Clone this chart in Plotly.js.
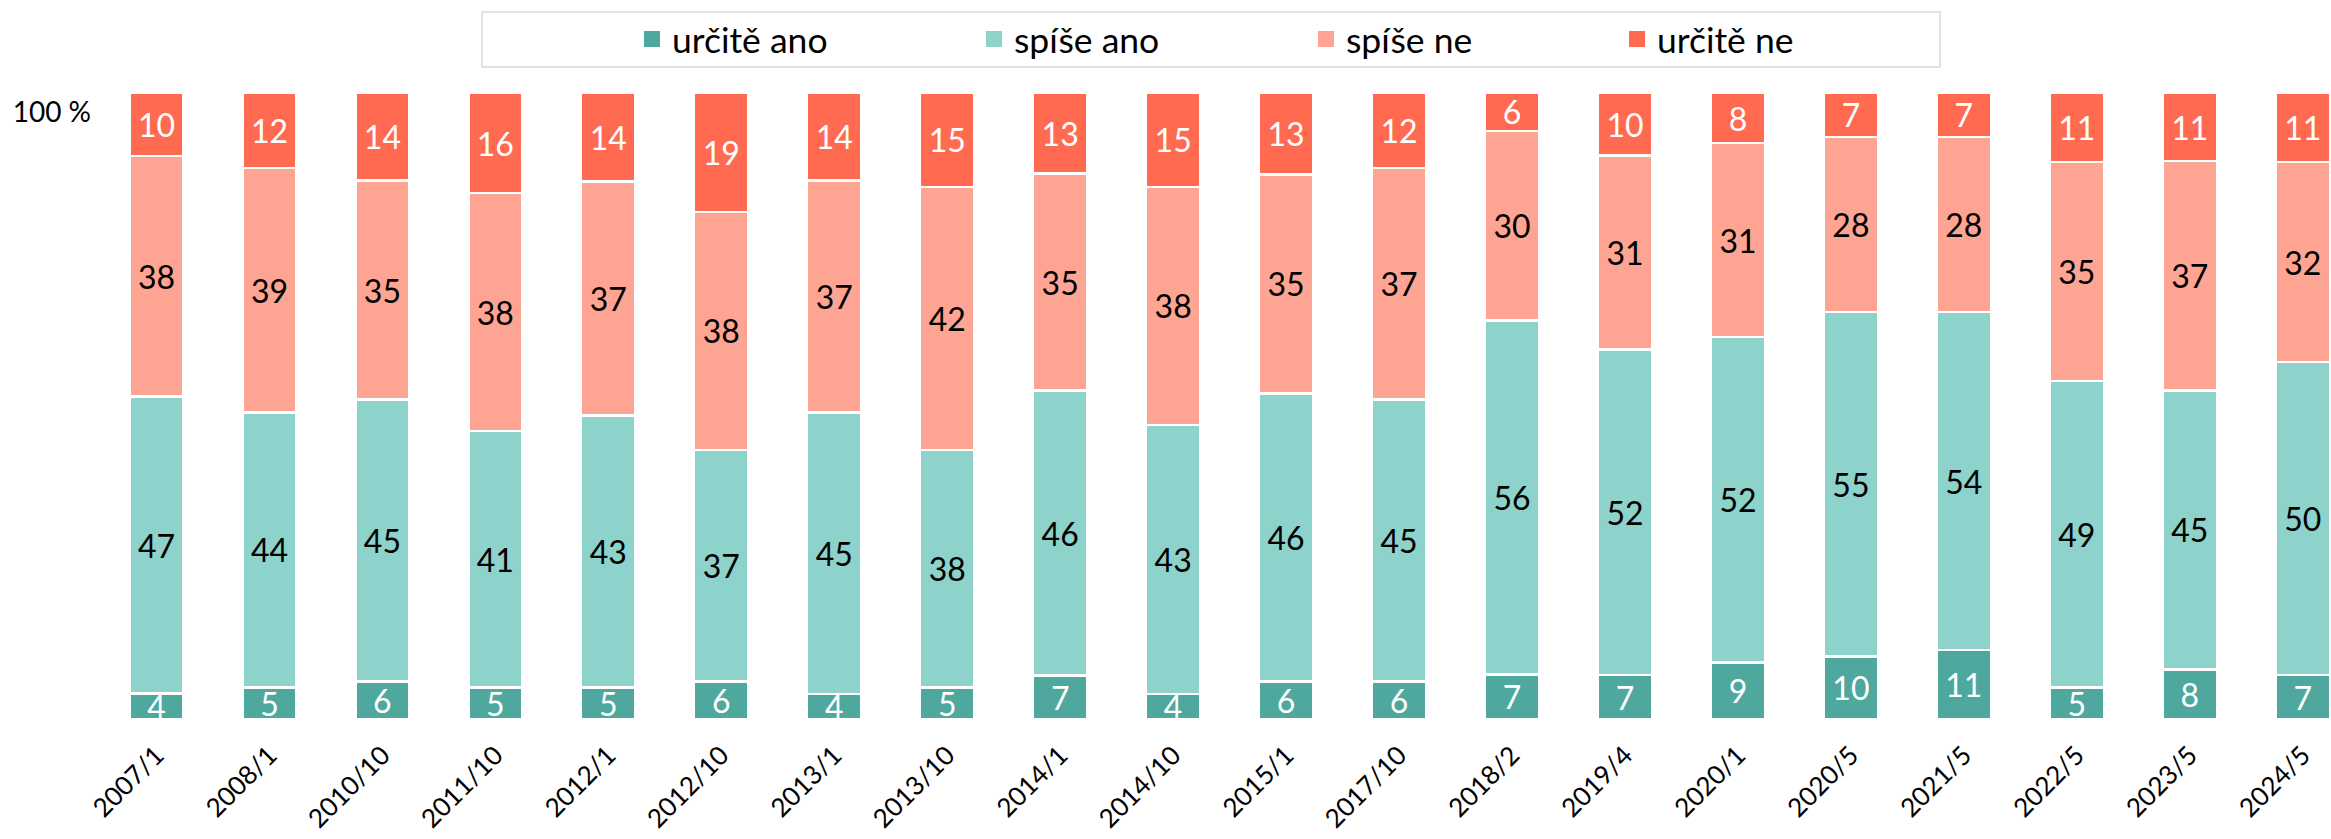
<!DOCTYPE html>
<html>
<head>
<meta charset="utf-8">
<script src="https://cdn.plot.ly/plotly-3.0.1.min.js"></script>
<style>html,body{margin:0;padding:0;background:#fff;}#chart{width:2331px;height:839px;}</style>
</head>
<body>
<div id="chart"></div>
<script>
var categories = ['2007/1','2008/1','2010/10','2011/10','2012/1','2012/10','2013/1','2013/10','2014/1','2014/10','2015/1','2017/10','2018/2','2019/4','2020/1','2020/5','2021/5','2022/5','2023/5','2024/5'];
var urciteAno = [4,5,6,5,5,6,4,5,7,4,6,6,7,7,9,10,11,5,8,7];
var spiseAno  = [47,44,45,41,43,37,45,38,46,43,46,45,56,52,52,55,54,49,45,50];
var spiseNe   = [38,39,35,38,37,38,37,42,35,38,35,37,30,31,31,28,28,35,37,32];
var urciteNe  = [10,12,14,16,14,19,14,15,13,15,13,12,6,10,8,7,7,11,11,11];
var seriesNames = ['určitě ano','spíše ano','spíše ne','určitě ne'];
var yTickLabel = '100 %';

var colors = ['#4EA89E','#8DD2CB','#FDA492','#FF6A50'];
var textColors = ['#FFFFFF','#000000','#000000','#FFFFFF'];
var FONT = 'Lato, "Open Sans", sans-serif';
var seriesData = [urciteAno, spiseAno, spiseNe, urciteNe];

var traces = [];
seriesData.forEach(function(vals, i){
  traces.push({
    type: 'bar',
    name: seriesNames[i],
    x: categories,
    y: vals,
    text: vals.map(String),
    texttemplate: '%{text}',
    textposition: 'inside',
    insidetextanchor: 'middle',
    textangle: 0,
    constraintext: 'none',
    textfont: {family: FONT, size: 32, color: textColors[i]},
    marker: {color: colors[i], line: {color: '#FFFFFF', width: 2.5}},
    showlegend: false,
    hoverinfo: 'x+y+name'
  });
});
// legend entries
var legendX = [632, 974, 1306, 1617];
seriesNames.forEach(function(n, i){
  traces.push({
    type: 'scatter',
    mode: 'markers',
    name: n,
    x: [null], y: [null],
    marker: {symbol: 'square', size: 16, color: colors[i]},
    showlegend: true,
    legend: i === 0 ? 'legend' : 'legend' + (i + 1),
    hoverinfo: 'skip'
  });
});

var L = 100, T = 93, PW = 2231, PH = 626;
function px2x(p){ return (p - L) / PW; }
function px2y(p){ return (T + PH - p) / PH; }

var layout = {
  width: 2331, height: 839,
  margin: {l: L, r: 0, t: T, b: 839 - T - PH, pad: 0},
  paper_bgcolor: '#FFFFFF',
  plot_bgcolor: '#FFFFFF',
  barmode: 'stack',
  barnorm: 'percent',
  bargap: 0.52,
  uniformtext: {mode: 'show', minsize: 32},
  font: {family: FONT, color: '#000000'},
  xaxis: {
    type: 'category',
    range: [-0.5, 19.25],
    tickangle: -45,
    tickfont: {family: FONT, size: 26, color: '#000000'},
    showline: false, showgrid: false, zeroline: false, ticks: '',
    ticklabelstandoff: 15,
    fixedrange: true
  },
  yaxis: {
    range: [0, 100],
    tickvals: [100],
    ticktext: [yTickLabel],
    tickfont: {family: FONT, size: 28, color: '#000000'},
    showline: false, showgrid: false, zeroline: false, ticks: '',
    ticklabelshift: 19,
    ticklabelstandoff: 8,
    fixedrange: true
  },
  shapes: [{
    type: 'rect', xref: 'paper', yref: 'paper',
    x0: px2x(482), x1: px2x(1940), y0: px2y(67), y1: px2y(12),
    line: {color: '#D9D9D9', width: 1.5}, fillcolor: 'rgba(0,0,0,0)'
  }]
};
legendX.forEach(function(p, i){
  var key = i === 0 ? 'legend' : 'legend' + (i + 1);
  layout[key] = {
    x: px2x(p), xanchor: 'left', xref: 'paper',
    y: px2y(39.5), yanchor: 'middle', yref: 'paper',
    orientation: 'h',
    bgcolor: 'rgba(0,0,0,0)', borderwidth: 0,
    font: {family: FONT, size: 35.5, color: '#000000'}
  };
});

Plotly.newPlot('chart', traces, layout, {displayModeBar: false, staticPlot: true});
</script>
</body>
</html>
